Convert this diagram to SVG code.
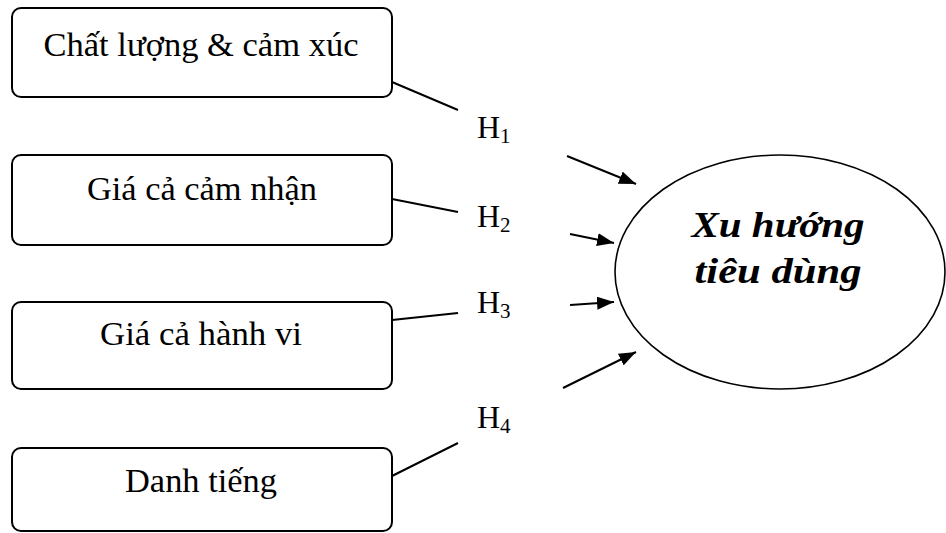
<svg xmlns="http://www.w3.org/2000/svg" width="946" height="533" viewBox="0 0 946 533">
<defs>
<style>
.box{fill:#fff;stroke:#000;stroke-width:2}
.t{font-family:"Liberation Serif","Times New Roman",serif;font-size:33px;fill:#000;text-anchor:middle}
.h{font-family:"Liberation Serif","Times New Roman",serif;font-size:32px;fill:#000}
.sub{font-size:21px}
.ln{stroke:#000;stroke-width:2;fill:none}
.ell{fill:#fff;stroke:#000;stroke-width:1.6}
.big{font-family:"Liberation Serif","Times New Roman",serif;font-size:36px;font-weight:bold;font-style:italic;fill:#000;text-anchor:middle}
</style>
<marker id="arr" markerWidth="17" markerHeight="13" refX="17" refY="6.5" orient="auto" markerUnits="userSpaceOnUse" viewBox="0 0 17 13">
<path d="M0,0 L17,6.5 L0,13 Z" fill="#000"/>
</marker>
</defs>
<rect width="946" height="533" fill="#fff"/>
<g id="connectors">
<line class="ln" x1="392" y1="82" x2="458" y2="110"/>
<line class="ln" x1="392" y1="199" x2="458" y2="212"/>
<line class="ln" x1="392" y1="320" x2="458" y2="313"/>
<line class="ln" x1="392" y1="476" x2="458" y2="443"/>
<line class="ln" x1="567" y1="156" x2="636" y2="184" marker-end="url(#arr)"/>
<line class="ln" x1="570" y1="234" x2="614" y2="243" marker-end="url(#arr)"/>
<line class="ln" x1="570" y1="305" x2="614" y2="302" marker-end="url(#arr)"/>
<line class="ln" x1="563" y1="388" x2="636" y2="352" marker-end="url(#arr)"/>
</g>
<g id="node-chat-luong">
<rect class="box" x="12" y="8" width="380" height="89" rx="9"/>
<text class="t" x="201" y="56" textLength="315" lengthAdjust="spacingAndGlyphs">Chất lượng &amp; cảm xúc</text>
</g>
<g id="node-gia-ca-cam-nhan">
<rect class="box" x="12" y="155" width="380" height="90" rx="9"/>
<text class="t" x="202" y="200" textLength="230" lengthAdjust="spacingAndGlyphs">Giá cả cảm nhận</text>
</g>
<g id="node-gia-ca-hanh-vi">
<rect class="box" x="12" y="302" width="380" height="87" rx="9"/>
<text class="t" x="201" y="345" textLength="202" lengthAdjust="spacingAndGlyphs">Giá cả hành vi</text>
</g>
<g id="node-danh-tieng">
<rect class="box" x="12" y="448" width="380" height="83" rx="9"/>
<text class="t" x="201" y="492" textLength="152" lengthAdjust="spacingAndGlyphs">Danh tiếng</text>
</g>
<g id="label-h1"><text class="h" x="477" y="138">H<tspan class="sub" dy="5">1</tspan></text></g>
<g id="label-h2"><text class="h" x="477" y="227">H<tspan class="sub" dy="5">2</tspan></text></g>
<g id="label-h3"><text class="h" x="477" y="313">H<tspan class="sub" dy="5">3</tspan></text></g>
<g id="label-h4"><text class="h" x="477" y="428">H<tspan class="sub" dy="5">4</tspan></text></g>
<g id="node-xu-huong">
<ellipse class="ell" cx="780" cy="272" rx="165" ry="117"/>
<text class="big" x="778" y="237" textLength="173" lengthAdjust="spacingAndGlyphs">Xu hướng</text>
<text class="big" x="778" y="283" textLength="167" lengthAdjust="spacingAndGlyphs">tiêu dùng</text>
</g>
</svg>
